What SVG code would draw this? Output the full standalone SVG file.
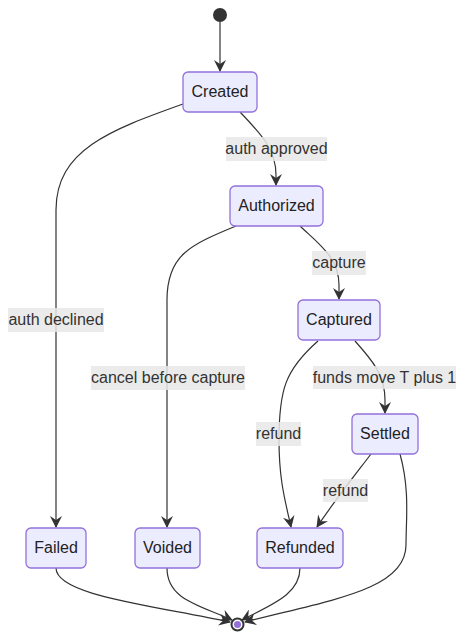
<svg xmlns="http://www.w3.org/2000/svg" width="465" height="640" viewBox="0 0 465 640">
<style>
.node rect{fill:#ECECFF;stroke:#9370DB;stroke-width:1.3}
.node text{font-family:"Liberation Sans",Arial,sans-serif;font-size:16px;fill:#222;text-anchor:middle}
.edge{fill:none;stroke:#333;stroke-width:1.2}
.lbl rect{fill:#e8e8e8;opacity:0.85}
.lbl text{font-family:"Liberation Sans",Arial,sans-serif;font-size:16px;fill:#333;text-anchor:middle}
</style>
<defs>
<marker id="arr" viewBox="0 0 12 12" refX="11" refY="6" markerWidth="12" markerHeight="12" markerUnits="userSpaceOnUse" orient="auto">
<path d="M0,0 L12,6 L0,12 L4,6 z" fill="#333"/>
</marker>
</defs>
<rect width="465" height="640" fill="#fff"/>
<g id="connectors">
<path class="edge" d="M220,22 L220,71" marker-end="url(#arr)"/>
<path class="edge" d="M240,112 C262,135 276,150 276,175 L276,185" marker-end="url(#arr)"/>
<path class="edge" d="M183,104 C110,130 56,150 56,210 L56,527" marker-end="url(#arr)"/>
<path class="edge" d="M236,226 C190,245 167,255 167,300 L167,527" marker-end="url(#arr)"/>
<path class="edge" d="M300,226 C320,245 339,258 339,285 L339,299" marker-end="url(#arr)"/>
<path class="edge" d="M355,341 C372,360 385,375 385,400 L385,413" marker-end="url(#arr)"/>
<path class="edge" d="M318,341 C285,370 279,390 279,440 C279,480 285,500 291,527" marker-end="url(#arr)"/>
<path class="edge" d="M371,454 C355,475 335,500 317,527" marker-end="url(#arr)"/>
<path class="edge" d="M400,454 C410,490 406,520 406,545 C406,590 330,600 245,622" marker-end="url(#arr)"/>
<path class="edge" d="M56,568 C56,595 150,605 230,622" marker-end="url(#arr)"/>
<path class="edge" d="M167,568 C167,600 200,605 232,620" marker-end="url(#arr)"/>
<path class="edge" d="M300,568 C300,595 270,605 242,620" marker-end="url(#arr)"/>
</g>
<g id="labels">
<g class="lbl"><rect x="226" y="137" width="101" height="24"/><text x="276.5" y="154">auth approved</text></g>
<g class="lbl"><rect x="8" y="308" width="96" height="24"/><text x="56" y="325">auth declined</text></g>
<g class="lbl"><rect x="312" y="251" width="54" height="24"/><text x="339" y="268">capture</text></g>
<g class="lbl"><rect x="91" y="366" width="154" height="24"/><text x="168" y="383">cancel before capture</text></g>
<g class="lbl"><rect x="313" y="366" width="143" height="23"/><text x="384.5" y="382.5">funds move T plus 1</text></g>
<g class="lbl"><rect x="256" y="422" width="45" height="24"/><text x="278.5" y="439">refund</text></g>
<g class="lbl"><rect x="323" y="479" width="45" height="23"/><text x="345.5" y="495.5">refund</text></g>
</g>
<g id="start"><circle cx="220" cy="15" r="7" fill="#333"/></g>
<g id="Created" class="node"><rect x="183" y="72" width="74" height="40" rx="5"/><text x="220" y="96.5">Created</text></g>
<g id="Authorized" class="node"><rect x="230" y="186" width="93" height="40" rx="5"/><text x="276.5" y="210.5">Authorized</text></g>
<g id="Captured" class="node"><rect x="298" y="300" width="82" height="40" rx="5"/><text x="339" y="324.5">Captured</text></g>
<g id="Settled" class="node"><rect x="352" y="414" width="66" height="40" rx="5"/><text x="385" y="438.5">Settled</text></g>
<g id="Failed" class="node"><rect x="26" y="528" width="60" height="40" rx="5"/><text x="56" y="552.5">Failed</text></g>
<g id="Voided" class="node"><rect x="135" y="528" width="65" height="40" rx="5"/><text x="167.5" y="552.5">Voided</text></g>
<g id="Refunded" class="node"><rect x="257" y="528" width="86" height="40" rx="5"/><text x="300" y="552.5">Refunded</text></g>
<g id="end"><circle cx="237.5" cy="624.5" r="6" fill="#fff" stroke="#333" stroke-width="2"/><circle cx="237.5" cy="624.5" r="3.5" fill="#9370DB"/></g>
</svg>
